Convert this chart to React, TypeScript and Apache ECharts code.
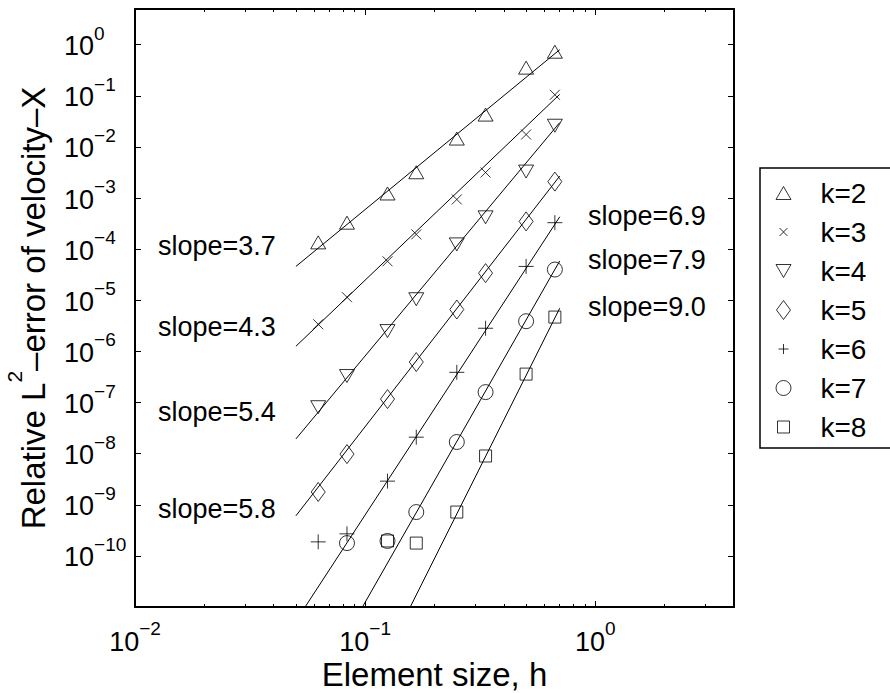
import React, { useEffect, useRef } from 'react';
import * as echarts from 'echarts';

// Element sizes h used in the refinement study
const elementSizes = [2 / 3, 1 / 2, 1 / 3, 1 / 4, 1 / 6, 1 / 8, 1 / 12, 1 / 16];

const seriesNames = ['k=2', 'k=3', 'k=4', 'k=5', 'k=6', 'k=7', 'k=8'];

// Relative L2 error of velocity-X per polynomial order k
const errK2 = [0.73, 0.356, 0.043, 0.0146, 3.2e-3, 1.23e-3, 3.3e-4, 1.36e-4];
const errK3 = [0.105, 0.0175, 3.16e-3, 9.4e-4, 1.95e-4, 5.8e-5, 1.15e-5, 3.4e-6];
const errK4 = [0.026, 3.3e-3, 4.2e-4, 1.24e-4, 1.05e-5, 2.5e-6, 3.3e-7, 8.1e-8];
const errK5 = [2.1e-3, 3.5e-4, 3.4e-5, 6.6e-6, 6.2e-7, 1.17e-7, 9.8e-9, 1.78e-9];
const errK6 = [3.3e-4, 4.6e-5, 2.84e-6, 3.9e-7, 2.1e-8, 2.9e-9, 2.7e-10, 1.88e-10];
const errK7 = [4.0e-5, 3.9e-6, 1.6e-7, 1.69e-8, 7.2e-10, 1.96e-10, 1.78e-10];
const errK8 = [4.7e-6, 3.6e-7, 9.0e-9, 7.2e-10, 1.78e-10, 1.96e-10];

// Fitted convergence lines: slope and the error at the upper end of the fit range
const fitSlopes = [3.7, 4.3, 5.4, 5.8, 6.9, 7.9, 9.0];
const fitEndErrors = [0.8, 0.107, 0.03, 2.7e-3, 4.3e-4, 5.9e-5, 7.0e-6];
const fitRange = [0.05, 0.7];

// Axis ticks
const xMajorTicks = [0.01, 0.1, 1];
const xMinorTicks = [0.02, 0.03, 0.04, 0.05, 0.06, 0.07, 0.08, 0.09, 0.2, 0.3, 0.4, 0.5, 0.6, 0.7, 0.8, 0.9, 2, 3];
const yMajorTicks = [1e-10, 1e-9, 1e-8, 1e-7, 1e-6, 1e-5, 1e-4, 1e-3, 1e-2, 1e-1, 1];

const FONT = '"Liberation Sans", Arial, Helvetica, sans-serif';

// Marker outlines, each inside a 20x20 frame (the two leading moves fix the frame)
const FRAME = 'path://M0,0M20,20';
const markerSymbols = [
  FRAME + 'M10,3.5L17.5,16.5L2.5,16.5Z',
  FRAME + 'M5,5L15,15M15,5L5,15',
  FRAME + 'M2.5,3.5L17.5,3.5L10,16.5Z',
  FRAME + 'M10,0.5L17,10L10,19.5L3,10Z',
  FRAME + 'M10,2.5L10,17.5M2.5,10L17.5,10',
  FRAME + 'M17.5,10A7.5,7.5,0,1,1,2.5,10A7.5,7.5,0,1,1,17.5,10Z',
  FRAME + 'M4,4L16,4L16,16L4,16Z',
];
const legendIcons = [
  markerSymbols[0],
  FRAME + 'M6,6L14,14M14,6L6,14',
  markerSymbols[2],
  markerSymbols[3],
  FRAME + 'M10,5L10,15M5,10L15,10',
  markerSymbols[5],
  markerSymbols[6],
];

// Legend frame (runs past the right edge of the canvas)
const legendBox = { x: 760, y: 168, width: 170, height: 280 };

// Where the slope annotations sit on the canvas
const slopeLabelPos = [
  [158, 246],
  [158, 327],
  [158, 412],
  [158, 509],
  [588, 216],
  [588, 260],
  [588, 307],
];

const powerLabel = (v: number) => {
  const n = Math.round(Math.log10(v));
  return `{b|10}{e|${n < 0 ? '\u2212' : ''}${Math.abs(n)}}`;
};

const tickRich = {
  b: { fontSize: 27, fontFamily: FONT, color: '#000', verticalAlign: 'bottom', padding: [9, 0, 0, 0] },
  e: { fontSize: 19, fontFamily: FONT, color: '#000', verticalAlign: 'top' },
};

const frameLine = { show: true, onZero: false, lineStyle: { color: '#000', width: 2 } };

function buildOption() {
  const errorSets = [errK2, errK3, errK4, errK5, errK6, errK7, errK8];

  const markerSeries = seriesNames.map((name, i) => ({
    name,
    type: 'scatter',
    xAxisIndex: 0,
    yAxisIndex: 0,
    symbol: markerSymbols[i],
    symbolSize: 20,
    itemStyle: { color: 'transparent', borderColor: '#000', borderWidth: 1 },
    data: errorSets[i].map((v, j) => [elementSizes[j], v]),
    silent: true,
    z: 3,
  }));

  const fitSeries = fitSlopes.map((s, i) => {
    const [h0, h1] = fitRange;
    const end = fitEndErrors[i];
    const start = end * Math.pow(h0 / h1, s);
    return {
      name: `fit ${seriesNames[i]}`,
      type: 'line',
      xAxisIndex: 0,
      yAxisIndex: 0,
      data: [
        [h0, start],
        [h1, end],
      ],
      symbol: 'none',
      showSymbol: false,
      lineStyle: { color: '#000', width: 1 },
      clip: true,
      silent: true,
      z: 2,
    };
  });

  const logX = { type: 'log', logBase: 10, min: 0.01, max: 4, splitLine: { show: false } };
  const logY = { type: 'log', logBase: 10, min: 1e-11, max: 5, splitLine: { show: false } };

  const slopeTexts = slopeLabelPos.map(([x, y], i) => ({
    type: 'text',
    x,
    y,
    silent: true,
    style: {
      text: `slope=${fitSlopes[i].toFixed(1)}`,
      fontSize: 27,
      fontFamily: FONT,
      fill: '#000',
      align: 'left',
      verticalAlign: 'middle',
    },
  }));

  return {
    animation: false,
    backgroundColor: '#fff',
    textStyle: { fontFamily: FONT, color: '#000' },
    grid: { left: 135, top: 9, width: 599, height: 598, containLabel: false, outerBoundsMode: 'none' },
    legend: {
      orient: 'vertical',
      left: 760,
      top: 168,
      padding: [11, 0, 6, 13],
      itemWidth: 64,
      itemHeight: 20,
      itemGap: 11,
      selectedMode: false,
      borderWidth: 0,
      itemStyle: { color: 'transparent', borderColor: '#000', borderWidth: 1 },
      textStyle: { fontSize: 28, fontFamily: FONT, color: '#000' },
      data: seriesNames.map((name, i) => ({ name, icon: legendIcons[i] })),
    },
    xAxis: [
      {
        ...logX,
        position: 'bottom',
        axisLine: frameLine,
        axisTick: { show: true, inside: true, length: 6, customValues: xMajorTicks, lineStyle: { color: '#000', width: 1 } },
        axisLabel: { show: true, customValues: xMajorTicks, margin: 12, formatter: powerLabel, rich: tickRich },
        name: 'Element size, h',
        nameLocation: 'middle',
        nameGap: 51,
        nameMoveOverlap: false,
        nameTextStyle: { fontSize: 33, fontFamily: FONT, color: '#000' },
      },
      {
        ...logX,
        position: 'bottom',
        axisLine: { show: false },
        axisTick: { show: true, inside: true, length: 3, customValues: xMinorTicks, lineStyle: { color: '#000', width: 1 } },
        axisLabel: { show: false },
      },
      {
        ...logX,
        position: 'top',
        axisLine: frameLine,
        axisTick: { show: true, inside: true, length: 6, customValues: xMajorTicks, lineStyle: { color: '#000', width: 1 } },
        axisLabel: { show: false },
      },
      {
        ...logX,
        position: 'top',
        axisLine: { show: false },
        axisTick: { show: true, inside: true, length: 3, customValues: xMinorTicks, lineStyle: { color: '#000', width: 1 } },
        axisLabel: { show: false },
      },
    ],
    yAxis: [
      {
        ...logY,
        position: 'left',
        axisLine: frameLine,
        axisTick: { show: true, inside: true, length: 6, customValues: yMajorTicks, lineStyle: { color: '#000', width: 1 } },
        axisLabel: {
          show: true,
          customValues: yMajorTicks,
          align: 'left',
          margin: 71,
          padding: [0, 0, 6, 0],
          formatter: powerLabel,
          rich: tickRich,
        },
        name: '{t|Relative L}{s|2}{t|\u2013error of velocity\u2013X}',
        nameLocation: 'middle',
        nameRotate: 90,
        nameGap: 85,
        nameMoveOverlap: false,
        nameTextStyle: {
          fontSize: 33,
          fontFamily: FONT,
          color: '#000',
          rich: {
            t: { fontSize: 33, fontFamily: FONT, color: '#000', verticalAlign: 'bottom', padding: [13, 0, 0, 0] },
            s: { fontSize: 21, fontFamily: FONT, color: '#000', verticalAlign: 'top' },
          },
        },
      },
      {
        ...logY,
        position: 'right',
        axisLine: frameLine,
        axisTick: { show: true, inside: true, length: 6, customValues: yMajorTicks, lineStyle: { color: '#000', width: 1 } },
        axisLabel: { show: false },
      },
    ],
    graphic: [
      {
        type: 'rect',
        silent: true,
        z: 0,
        shape: { ...legendBox },
        style: { fill: 'none', stroke: '#000', lineWidth: 1.5 },
      },
      ...slopeTexts,
    ],
    series: [...fitSeries, ...markerSeries],
  };
}

export default function App() {
  const ref = useRef<HTMLDivElement>(null);

  useEffect(() => {
    if (!ref.current) return;
    const chart = echarts.init(ref.current, undefined, { renderer: 'svg' });
    chart.setOption(buildOption() as any);
    return () => chart.dispose();
  }, []);

  return (
    <div
      ref={ref}
      style={{ position: 'absolute', left: 0, top: 0, width: 890, height: 693, background: '#fff' }}
    />
  );
}
